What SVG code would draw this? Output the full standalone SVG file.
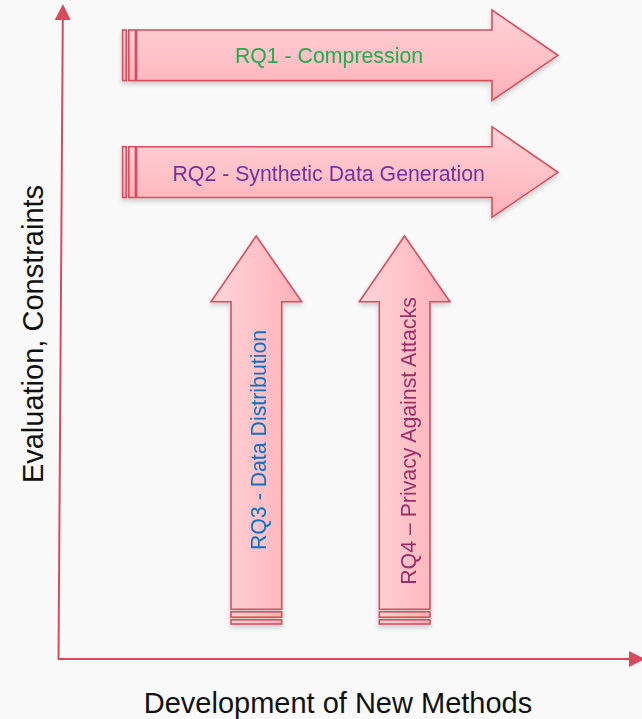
<svg xmlns="http://www.w3.org/2000/svg" width="642" height="719" viewBox="0 0 642 719">
  <defs>
    <linearGradient id="gradH" x1="0" y1="0" x2="0" y2="1">
      <stop offset="0" stop-color="#ffd3d7"/>
      <stop offset="1" stop-color="#ffb1b8"/>
    </linearGradient>
    <linearGradient id="gradV" x1="0" y1="0" x2="1" y2="0">
      <stop offset="0" stop-color="#ffd6da"/>
      <stop offset="1" stop-color="#ffb0b7"/>
    </linearGradient>
    <filter id="shadow" x="-10%" y="-10%" width="120%" height="130%">
      <feGaussianBlur in="SourceAlpha" stdDeviation="2.5"/>
      <feOffset dx="0" dy="3" result="b"/>
      <feComponentTransfer><feFuncA type="linear" slope="0.18"/></feComponentTransfer>
      <feMerge><feMergeNode/><feMergeNode in="SourceGraphic"/></feMerge>
    </filter>
    <marker id="axisHead" markerWidth="16" markerHeight="16" viewBox="0 0 16 16" refX="1" refY="8" orient="auto" markerUnits="userSpaceOnUse">
      <path d="M0,0 L16,8 L0,16 Z" fill="#d94a5d"/>
    </marker>
  </defs>
  <style>
    .shape { stroke: #d4505e; stroke-width: 1.6; stroke-linejoin: miter; }
    .h { fill: url(#gradH); }
    .v { fill: url(#gradV); }
    .lbl { font-family: "Liberation Sans", Arial, sans-serif; font-size: 21.3px; text-anchor: middle; }
    .axislbl { font-family: "Liberation Sans", Arial, sans-serif; font-size: 29px; fill: #111; text-anchor: middle; }
    .axis { stroke: #d94a5d; stroke-width: 2; fill: none; }
  </style>

  <rect width="642" height="719" fill="#f9f9f9"/>

  <!-- axes -->
  <g id="connectors">
    <line class="axis" x1="58.5" y1="659" x2="62.8" y2="19" marker-end="url(#axisHead)"/>
    <line class="axis" x1="58" y1="659" x2="630" y2="659" marker-end="url(#axisHead)"/>
  </g>

  <!-- RQ1 -->
  <g id="rq1" filter="url(#shadow)">
    <rect class="shape h" x="122.6" y="30" width="3.6" height="50.6"/>
    <rect class="shape h" x="128.8" y="30" width="6.6" height="50.6"/>
    <path class="shape h" d="M136.6,30 H492 V10 L558,55.3 L492,100.4 V80.6 H136.6 Z"/>
    <text class="lbl" x="329" y="63" fill="#22ac50">RQ1 - Compression</text>
  </g>

  <!-- RQ2 -->
  <g id="rq2" filter="url(#shadow)">
    <rect class="shape h" x="122.6" y="146.7" width="3.6" height="50.8"/>
    <rect class="shape h" x="128.8" y="146.7" width="6.6" height="50.8"/>
    <path class="shape h" d="M136.6,146.7 H492 V126.7 L558,172.3 L492,217.3 V197.5 H136.6 Z"/>
    <text class="lbl" x="328.7" y="180.5" fill="#7231a0">RQ2 - Synthetic Data Generation</text>
  </g>

  <!-- RQ3 -->
  <g id="rq3" filter="url(#shadow)">
    <path class="shape v" d="M231,609.3 V301.7 H211 L256.2,236 L301.7,301.7 H281.7 V609.3 Z"/>
    <rect class="shape v" x="231" y="611.8" width="50.7" height="5.4"/>
    <rect class="shape v" x="231" y="619.8" width="50.7" height="4.2"/>
    <text class="lbl" transform="translate(266,440) rotate(-90)" fill="#0b72c2">RQ3 - Data Distribution</text>
  </g>

  <!-- RQ4 -->
  <g id="rq4" filter="url(#shadow)">
    <path class="shape v" d="M379.3,609.3 V301.7 H359.3 L404.5,236 L450,301.7 H430 V609.3 Z"/>
    <rect class="shape v" x="379.3" y="611.8" width="50.7" height="5.4"/>
    <rect class="shape v" x="379.3" y="619.8" width="50.7" height="4.2"/>
    <text class="lbl" transform="translate(415.5,441) rotate(-90)" fill="#9c2f6a">RQ4 – Privacy Against Attacks</text>
  </g>

  <!-- axis titles -->
  <g id="yLabel">
    <text class="axislbl" transform="translate(42.5,334) rotate(-90)">Evaluation, Constraints</text>
  </g>
  <g id="xLabel">
    <text class="axislbl" x="338" y="713">Development of New Methods</text>
  </g>
</svg>
